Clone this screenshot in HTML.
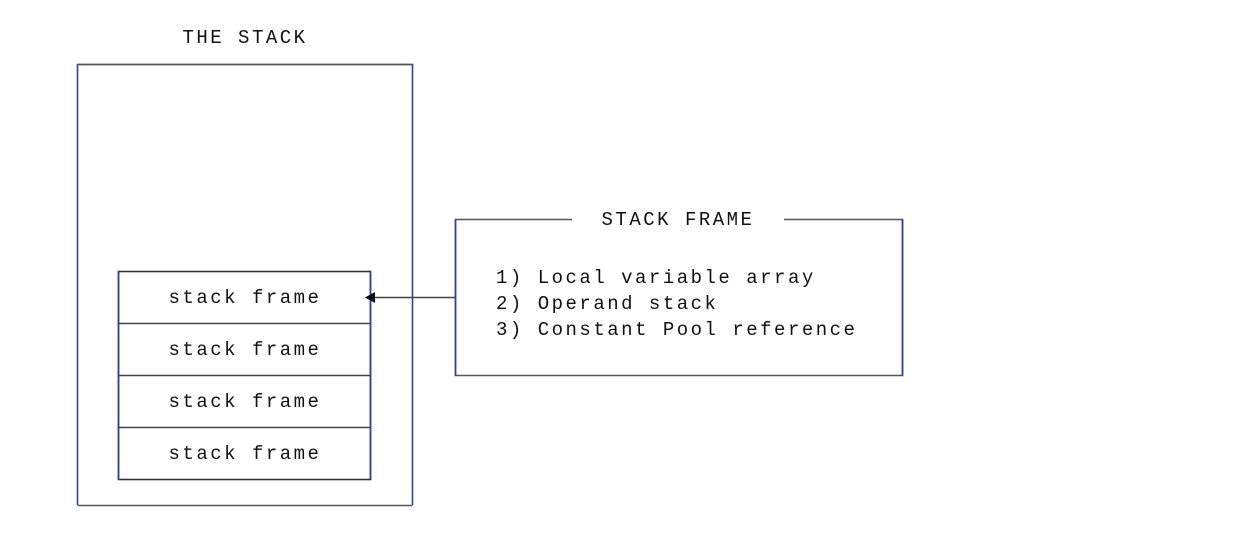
<!DOCTYPE html>
<html><head><style>
html,body{margin:0;padding:0;background:#fff;}
svg text{font-family:"Liberation Mono",monospace;font-size:19px;letter-spacing:2.5px;fill:#111;}
</style></head><body>
<svg width="1236" height="544" viewBox="0 0 1236 544" xmlns="http://www.w3.org/2000/svg">
<g fill="none" stroke-width="1.6">
<path d="M77.5 505 V64.5 H412.5 V505" stroke="#2b3fa8"/>
<path d="M77.5 505.5 H412.5" stroke="#555"/>
<path d="M77.5 64.5 H412.5" stroke="#555"/>
<rect x="118.5" y="271.5" width="252" height="208" stroke="#333"/>
<path d="M118.5 323.5 H370.5 M118.5 375.5 H370.5 M118.5 427.5 H370.5" stroke="#444"/>
<path d="M118.5 271.5 V479.5 M370.5 271.5 V479.5" stroke="#2b3fa8"/>
<path d="M572 219.5 H455.5 V375.5 H902.5 V219.5 H784" stroke="#555"/>
<path d="M455.5 219.5 V375.5 M902.5 219.5 V375.5" stroke="#2b3fa8"/>
<path d="M455 297.5 H374" stroke="#444"/>
</g>
<polygon points="365,297.5 375,292 375,303" fill="#111"/>
<text x="245" y="43" text-anchor="middle">THE STACK</text>
<text x="678" y="225" text-anchor="middle">STACK FRAME</text>
<text x="245" y="303" text-anchor="middle">stack frame</text>
<text x="245" y="355" text-anchor="middle">stack frame</text>
<text x="245" y="407" text-anchor="middle">stack frame</text>
<text x="245" y="459" text-anchor="middle">stack frame</text>
<text x="496" y="283">1) Local variable array</text>
<text x="496" y="309">2) Operand stack</text>
<text x="496" y="335">3) Constant Pool reference</text>
</svg>
</body></html>
